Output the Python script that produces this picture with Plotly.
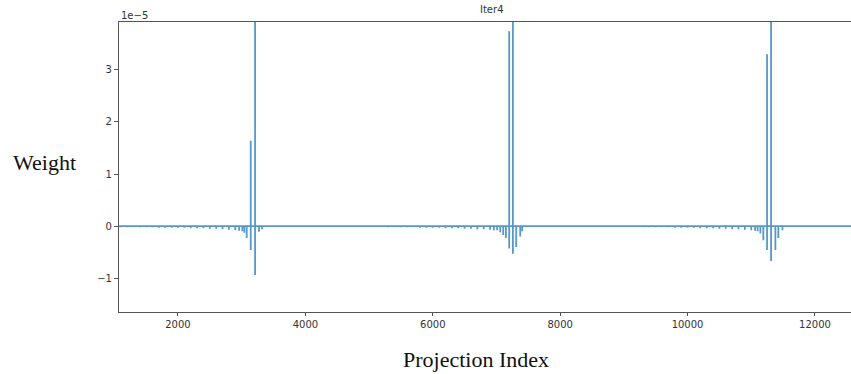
import plotly.graph_objects as go

# Spike data (weights in units of 1e-5).
# Each entry: projection index, upper value of the stroke, lower value of the stroke.
c1_x  = [1100, 1200, 1300, 1400, 1500, 1600, 1700, 1800, 1900, 2000,
         2100, 2200, 2300, 2400, 2500, 2600, 2700, 2800, 2900, 2960,
         3010, 3042, 3079, 3142, 3210, 3272, 3320]
c1_hi = [0, 0, 0, 0, 0, 0, 0, 0, 0, 0,
         0, 0, 0, 0, 0, 0, 0, 0, 0, 0,
         0, 0, 0, 1.64, 4.6, 0, 0]
c1_lo = [-0.02, -0.02, -0.02, -0.02, -0.02, -0.02, -0.03, -0.03, -0.03, -0.03,
         -0.03, -0.04, -0.04, -0.04, -0.05, -0.05, -0.06, -0.07, -0.08, -0.09,
         -0.10, -0.13, -0.23, -0.46, -0.94, -0.11, -0.06]

c2_x  = [5100, 5200, 5300, 5400, 5500, 5600, 5700, 5800, 5900, 6000,
         6100, 6200, 6300, 6400, 6500, 6600, 6700, 6800, 6900, 6960,
         7011, 7059, 7106, 7148, 7200, 7258, 7310, 7373, 7404]
c2_hi = [0, 0, 0, 0, 0, 0, 0, 0, 0, 0,
         0, 0, 0, 0, 0, 0, 0, 0, 0, 0,
         0, 0, 0, 0, 3.74, 4.6, 0, 0, 0]
c2_lo = [-0.01, -0.01, -0.02, -0.02, -0.02, -0.02, -0.02, -0.03, -0.03, -0.03,
         -0.03, -0.04, -0.04, -0.04, -0.05, -0.05, -0.06, -0.06, -0.07, -0.08,
         -0.08, -0.12, -0.17, -0.23, -0.43, -0.53, -0.40, -0.20, -0.10]

c3_x  = [9100, 9200, 9300, 9400, 9500, 9600, 9700, 9800, 9900, 10000,
         10100, 10200, 10300, 10400, 10500, 10600, 10700, 10800, 10900, 11000,
         11060, 11100, 11143, 11190, 11248, 11311, 11379, 11425, 11490]
c3_hi = [0, 0, 0, 0, 0, 0, 0, 0, 0, 0,
         0, 0, 0, 0, 0, 0, 0, 0, 0, 0,
         0, 0, 0, 0, 3.30, 4.6, 0, 0, 0]
c3_lo = [-0.01, -0.01, -0.02, -0.02, -0.02, -0.02, -0.02, -0.03, -0.03, -0.03,
         -0.03, -0.04, -0.04, -0.04, -0.05, -0.05, -0.06, -0.06, -0.07, -0.08,
         -0.09, -0.10, -0.14, -0.27, -0.46, -0.67, -0.46, -0.23, -0.08]

x_start, x_end = 1000, 13000

y_tick_vals = [-1, 0, 1, 2, 3]
y_tick_text = ["\u22121", "0", "1", "2", "3"]
x_tick_vals = [2000, 4000, 6000, 8000, 10000, 12000]
x_tick_text = ["2000", "4000", "6000", "8000", "10000", "12000"]

# Build the polyline of the weight curve
xs, ys = [x_start], [0]
for cx, chi, clo in ((c1_x, c1_hi, c1_lo), (c2_x, c2_hi, c2_lo), (c3_x, c3_hi, c3_lo)):
    for x, hi, lo in zip(cx, chi, clo):
        xs += [x, x, x, x]
        ys += [0, hi, lo, 0]
xs.append(x_end)
ys.append(0)

fig = go.Figure()
fig.add_trace(go.Scatter(
    x=xs, y=ys, mode="lines",
    line=dict(color="#1f77b4", width=1.8),
    opacity=0.75, hoverinfo="skip", showlegend=False,
))

axis_font = dict(family="DejaVu Sans", size=10, color="#333333")
fig.update_layout(
    width=851, height=374,
    margin=dict(l=119, r=0, t=22, b=62),
    paper_bgcolor="white", plot_bgcolor="white",
    xaxis=dict(
        range=[1074, 12566], tickvals=x_tick_vals, ticktext=x_tick_text,
        showgrid=False, zeroline=False, showline=True, mirror=True,
        linecolor="#555555", linewidth=1.2, ticks="outside", ticklen=3,
        tickcolor="#555555", tickfont=axis_font,
    ),
    yaxis=dict(
        range=[-1.65, 3.92], tickvals=y_tick_vals, ticktext=y_tick_text,
        showgrid=False, zeroline=False, showline=True, mirror=False,
        linecolor="#555555", linewidth=1.2, ticks="outside", ticklen=4,
        tickcolor="#555555", tickfont=axis_font,
    ),
    annotations=[
        dict(text="Iter4", xref="paper", yref="paper", x=0.5096, y=1.0,
             xanchor="center", yanchor="middle", yshift=13, showarrow=False,
             font=dict(family="DejaVu Sans", size=10, color="#333333")),
        dict(text="1e\u22125", xref="paper", yref="paper", x=0.0, y=1.0,
             xanchor="left", yanchor="middle", yshift=7, showarrow=False,
             font=dict(family="DejaVu Sans", size=10, color="#333333")),
        dict(text="Weight", xref="paper", yref="paper", x=-0.1018, y=0.514,
             xanchor="center", yanchor="middle", showarrow=False,
             font=dict(family="Liberation Serif", size=22, color="#111111")),
        dict(text="Projection Index", xref="paper", yref="paper", x=0.4877, y=-0.1655,
             xanchor="center", yanchor="middle", showarrow=False,
             font=dict(family="Liberation Serif", size=22, color="#111111")),
    ],
)

fig.write_html("out.html", config={"displayModeBar": False},
               post_script="document.body.style.margin='0';")
